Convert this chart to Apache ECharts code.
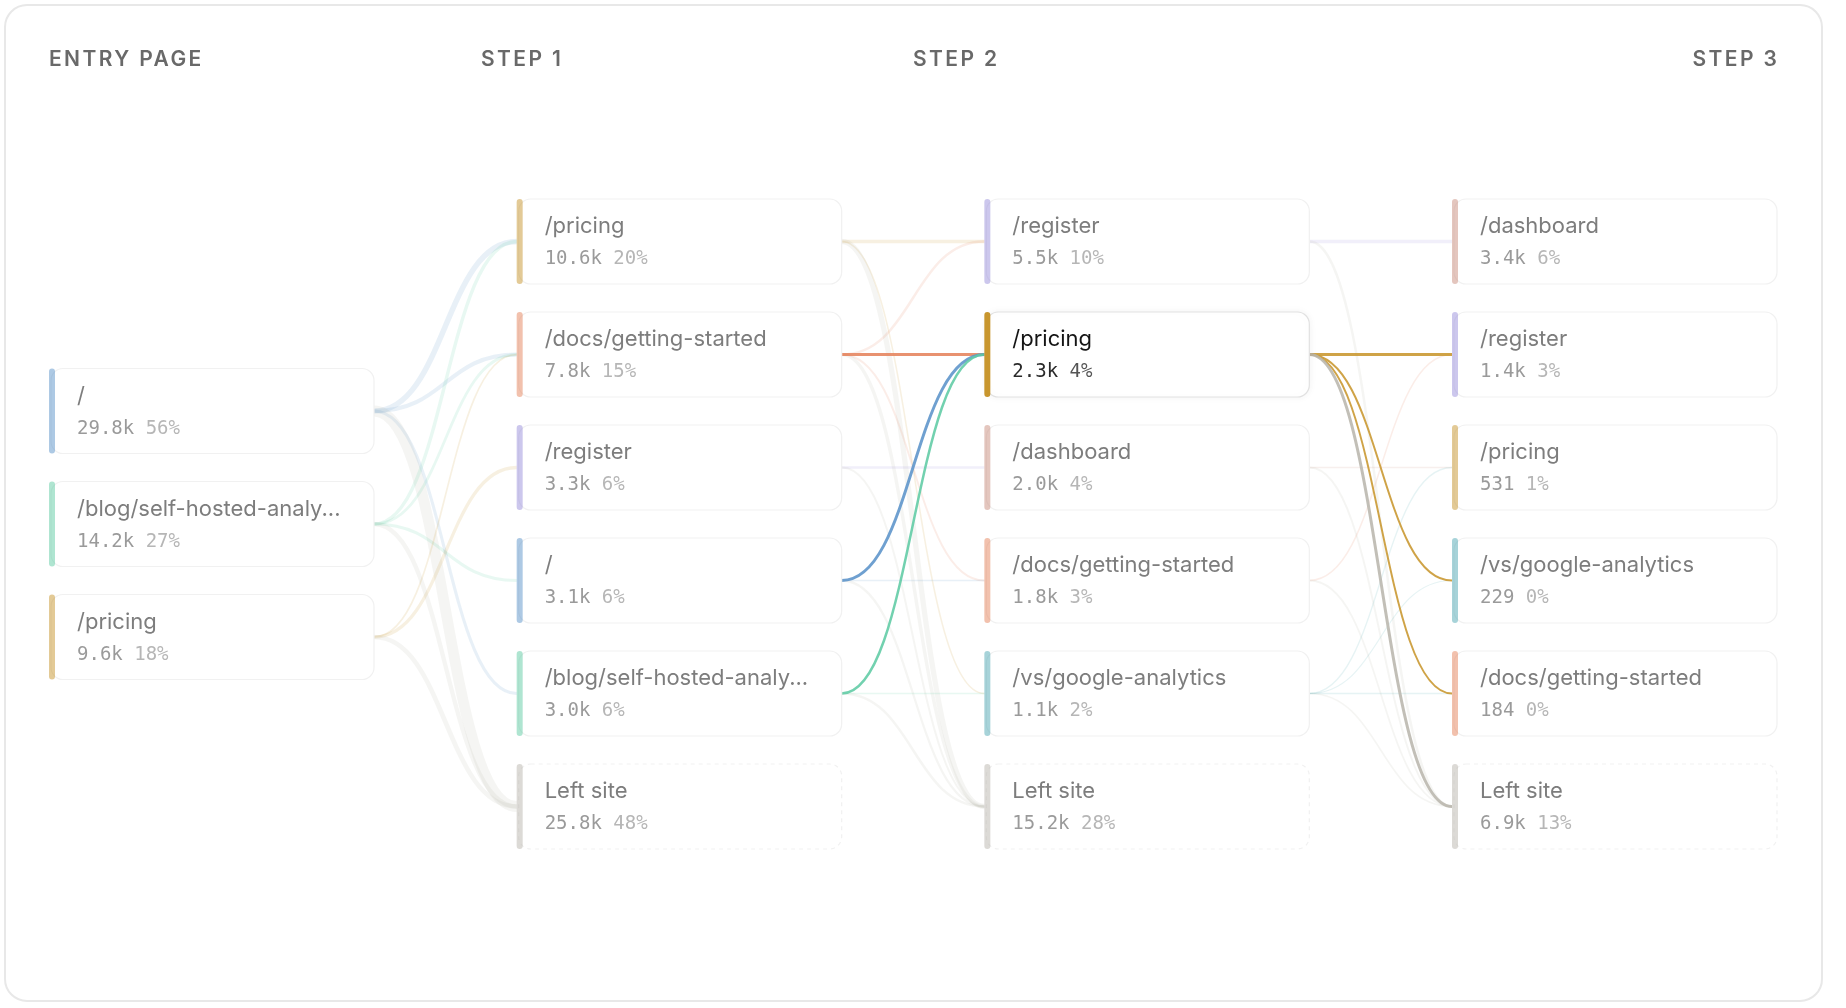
<!DOCTYPE html>
<html>
<head>
<meta charset="utf-8">
<title>User flow</title>
<script src="https://cdn.jsdelivr.net/npm/echarts@6/dist/echarts.min.js"></script>
<style>
  html, body { margin: 0; padding: 0; background: #fff; }
  #wrap { position: relative; width: 1846px; height: 1008px; }
  #chart { width: 1846px; height: 1008px; }
  #steps {
    position: absolute; left: 49px; top: 47px; width: 1728px;
    display: grid; grid-template-columns: repeat(4, 1fr);
    font-family: Inter, sans-serif; font-weight: 600; font-size: 21px;
    line-height: 24px; letter-spacing: 2.4px; color: #696969;
  }
  #steps div:last-child { text-align: right; margin-right: -2.4px; }
</style>
</head>
<body>
<div id="wrap">
  <div id="chart"></div>
  <div id="steps"></div>
</div>
<script>
const stepTitles = ['ENTRY PAGE', 'STEP 1', 'STEP 2', 'STEP 3'];

const entryPages = ['/', '/blog/self-hosted-analy...', '/pricing'];
const entryVisits = [29800, 14200, 9600];
const entryShare = [56, 27, 18];

const step1Pages = ['/pricing', '/docs/getting-started', '/register', '/', '/blog/self-hosted-analy...', 'Left site'];
const step1Visits = [10600, 7800, 3300, 3100, 3000, 25800];
const step1Share = [20, 15, 6, 6, 6, 48];

const step2Pages = ['/register', '/pricing', '/dashboard', '/docs/getting-started', '/vs/google-analytics', 'Left site'];
const step2Visits = [5500, 2300, 2000, 1800, 1100, 15200];
const step2Share = [10, 4, 4, 3, 2, 28];

const step3Pages = ['/dashboard', '/register', '/pricing', '/vs/google-analytics', '/docs/getting-started', 'Left site'];
const step3Visits = [3400, 1400, 531, 229, 184, 6900];
const step3Share = [6, 3, 1, 0, 0, 13];

// [from page, to page, visits]
const entryToStep1 = [
    ['/', '/pricing', 7000],
    ['/', '/docs/getting-started', 4500],
    ['/', '/blog/self-hosted-analy...', 3000],
    ['/', 'Left site', 15300],
    ['/blog/self-hosted-analy...', '/pricing', 3600],
    ['/blog/self-hosted-analy...', '/docs/getting-started', 2500],
    ['/blog/self-hosted-analy...', '/', 3100],
    ['/blog/self-hosted-analy...', 'Left site', 5000],
    ['/pricing', '/register', 3300],
    ['/pricing', '/docs/getting-started', 800],
    ['/pricing', 'Left site', 5500]
];
const step1ToStep2 = [
    ['/pricing', '/register', 3500],
    ['/pricing', '/vs/google-analytics', 600],
    ['/pricing', 'Left site', 6500],
    ['/docs/getting-started', '/register', 2000],
    ['/docs/getting-started', '/pricing', 1000],
    ['/docs/getting-started', '/docs/getting-started', 1200],
    ['/docs/getting-started', 'Left site', 3600],
    ['/register', '/dashboard', 2000],
    ['/register', 'Left site', 1300],
    ['/', '/pricing', 800],
    ['/', '/docs/getting-started', 600],
    ['/', 'Left site', 1700],
    ['/blog/self-hosted-analy...', '/pricing', 500],
    ['/blog/self-hosted-analy...', '/vs/google-analytics', 500],
    ['/blog/self-hosted-analy...', 'Left site', 2000]
];
const step2ToStep3 = [
    ['/register', '/dashboard', 3400],
    ['/register', 'Left site', 2100],
    ['/pricing', '/register', 900],
    ['/pricing', '/vs/google-analytics', 150],
    ['/pricing', '/docs/getting-started', 100],
    ['/pricing', 'Left site', 1100],
    ['/dashboard', '/pricing', 300],
    ['/dashboard', 'Left site', 1200],
    ['/docs/getting-started', '/register', 500],
    ['/docs/getting-started', 'Left site', 900],
    ['/vs/google-analytics', '/pricing', 231],
    ['/vs/google-analytics', '/vs/google-analytics', 79],
    ['/vs/google-analytics', '/docs/getting-started', 84],
    ['/vs/google-analytics', 'Left site', 600]
];

// the page that is hovered: step 2, /pricing
const focusStep = 2;
const focusPage = '/pricing';

const pageColors = {
    '/': '#5b93c9',
    '/blog/self-hosted-analy...': '#5fcba4',
    '/pricing': '#c8962e',
    '/docs/getting-started': '#e5835c',
    '/register': '#9a8fdc',
    '/dashboard': '#c98e7d',
    '/vs/google-analytics': '#4fa8b4',
    'Left site': '#bab6ad'
};

const CARD_W = 325;
const CARD_H = 85;

const columns = [
    {pages: entryPages, visits: entryVisits, share: entryShare},
    {pages: step1Pages, visits: step1Visits, share: step1Share},
    {pages: step2Pages, visits: step2Visits, share: step2Share},
    {pages: step3Pages, visits: step3Visits, share: step3Share}
];
const flows = [entryToStep1, step1ToStep2, step2ToStep3];

document.getElementById('steps').innerHTML = stepTitles.map(function (t) {
    return '<div>' + t + '</div>';
}).join('');

function rowOf(col, page) {
    const c = columns[col];
    return c.pages.indexOf(page) + (6 - c.pages.length) / 2;
}

function fmt(v) {
    return v >= 1000 ? (v / 1000).toFixed(1) + 'k' : String(v);
}

const nodes = [];
columns.forEach(function (c, col) {
    c.pages.forEach(function (page, i) {
        nodes.push({
            col: col,
            row: rowOf(col, page),
            page: page,
            visits: c.visits[i],
            share: c.share[i],
            active: col === focusStep && page === focusPage
        });
    });
});

const links = [];
flows.forEach(function (list, col) {
    list.forEach(function (f) {
        links.push({
            col: col,
            from: f[0],
            to: f[1],
            value: f[2],
            active: (col === focusStep && f[0] === focusPage) || (col + 1 === focusStep && f[1] === focusPage)
        });
    });
});
links.sort(function (a, b) { return (a.active ? 1 : 0) - (b.active ? 1 : 0); });

function renderLink(params, api) {
    const link = links[params.dataIndex];
    const a = api.coord([api.value(0), api.value(1)]);
    const b = api.coord([api.value(2), api.value(3)]);
    const x1 = a[0] + CARD_W;
    const x2 = b[0];
    const mx = (x1 + x2) / 2;
    const color = link.to === 'Left site' ? pageColors['Left site'] : pageColors[link.from];
    const w = 1.2 + link.value / 1600;
    return {
        type: 'bezierCurve',
        shape: {x1: x1, y1: a[1], x2: x2, y2: b[1], cpx1: mx, cpy1: a[1], cpx2: mx, cpy2: b[1]},
        style: {
            fill: 'none',
            stroke: color,
            lineWidth: link.active ? Math.min(3, 1.8 + link.value / 700) : Math.min(w, 11),
            opacity: link.active ? 0.88 : 0.14
        },
        z2: link.active ? 10 : 0
    };
}

function renderCard(params, api) {
    const node = nodes[params.dataIndex];
    const p = api.coord([api.value(0), api.value(1)]);
    const x = p[0];
    const y = p[1] - CARD_H / 2;
    const on = node.active;
    const exit = node.page === 'Left site';
    return {
        type: 'group',
        children: [
            {
                type: 'rect',
                shape: {x: x + 2, y: y, width: CARD_W - 2, height: CARD_H, r: 12},
                style: {
                    fill: '#fff',
                    stroke: on ? '#e1e1e1' : '#f1f1f1',
                    lineWidth: 1.2,
                    lineDash: exit ? [4, 4] : null,
                    shadowBlur: on ? 8 : 0,
                    shadowColor: 'rgba(0,0,0,0.05)'
                }
            },
            {
                type: 'rect',
                shape: {x: x, y: y, width: 6, height: CARD_H, r: 3},
                style: {fill: pageColors[node.page], opacity: on ? 1 : 0.5}
            },
            {
                type: 'text',
                x: x + 28,
                y: p[1] - 15,
                style: {
                    text: node.page,
                    fontFamily: 'Inter',
                    fontSize: 22,
                    fill: on ? '#151515' : '#7d7d7d',
                    verticalAlign: 'middle'
                }
            },
            {
                type: 'text',
                x: x + 28,
                y: p[1] + 18,
                style: {
                    text: '{v|' + fmt(node.visits) + '} {p|' + node.share + '%}',
                    fontFamily: 'DejaVu Sans Mono',
                    fontSize: 19,
                    verticalAlign: 'middle',
                    rich: {
                        v: {fontFamily: 'DejaVu Sans Mono', fontSize: 19, fill: on ? '#2a2a2a' : '#9a9a9a'},
                        p: {fontFamily: 'DejaVu Sans Mono', fontSize: 19, fill: on ? '#555' : '#b6b6b6'}
                    }
                }
            }
        ]
    };
}

const chart = echarts.init(document.getElementById('chart'));
chart.setOption({
    animation: false,
    backgroundColor: '#fff',
    grid: {left: 49, right: 394, top: 241.5, bottom: 201.5},
    xAxis: {type: 'value', min: 0, max: 3, show: false},
    yAxis: {type: 'value', min: 0, max: 5, inverse: true, show: false},
    graphic: [
        {
            type: 'rect',
            z: -10,
            shape: {x: 5, y: 5, width: 1817, height: 996, r: 22},
            style: {fill: '#fff', stroke: '#e8e8e8', lineWidth: 2}
        }
    ],
    series: [
        {
            type: 'custom',
            name: 'links',
            silent: true,
            renderItem: renderLink,
            encode: {x: [0, 2], y: [1, 3]},
            data: links.map(function (l) {
                return [l.col, rowOf(l.col, l.from), l.col + 1, rowOf(l.col + 1, l.to)];
            }),
            z: 2
        },
        {
            type: 'custom',
            name: 'pages',
            silent: true,
            renderItem: renderCard,
            encode: {x: 0, y: 1},
            data: nodes.map(function (n) { return [n.col, n.row]; }),
            z: 3
        }
    ]
});
</script>
</body>
</html>
